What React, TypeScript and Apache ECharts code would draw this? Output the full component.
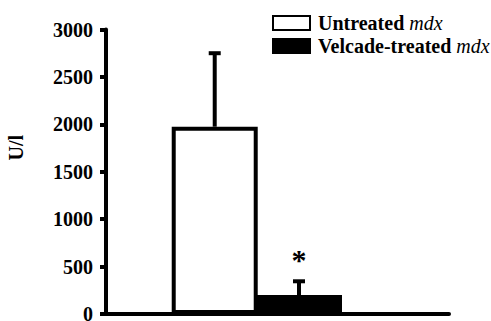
import React, { useEffect, useRef } from "react";
import * as echarts from "echarts";

const groups = [""];
const seriesNames = ["Untreated mdx", "Velcade-treated mdx"];
const means = [1975, 200];
const errorTops = [2750, 345];
const marks = ["", "*"];
const yMin = 0;
const yMax = 3000;
const yStep = 500;
const yName = "U/l";

const BAR_W = 86;
const GAP = -0.02;
const SPACER_W = 43;
const FONT = "'Liberation Serif', 'Times New Roman', serif";

function barCenterOffset(idx: number): number {
  const widths = [BAR_W, BAR_W, SPACER_W];
  let sum = 0;
  widths.forEach((w) => (sum += w * (1 + GAP)));
  sum -= widths[widths.length - 1] * GAP;
  let off = -sum / 2;
  for (let i = 0; i < idx; i++) off += widths[i] * (1 + GAP);
  return off + widths[idx] / 2;
}

export default function App() {
  const ref = useRef<HTMLDivElement>(null);
  useEffect(() => {
    if (!ref.current) return;
    const chart = echarts.init(ref.current, null, { renderer: "svg" });
    const barColors = ["#ffffff", "#000000"];
    const errData = means.map((m, i) => [0, m, errorTops[i], i]);
    chart.setOption({
      animation: false,
      backgroundColor: "#ffffff",
      grid: {
        left: 106,
        right: 42,
        top: 29.5,
        bottom: 7,
        containLabel: false,
        outerBoundsMode: "none",
      },
      legend: {
        orient: "vertical",
        left: 272,
        top: 13,
        padding: 0,
        itemWidth: 37,
        itemHeight: 14,
        itemGap: 3,
        icon: "rect",
        data: seriesNames.map((n, i) => ({
          name: n,
          itemStyle: { color: barColors[i], borderColor: "#000", borderWidth: 2 },
        })),
        formatter: (name: string) => `{b|${name.replace(/ mdx$/, "")}} {i|mdx}`,
        textStyle: {
          color: "#000",
          fontFamily: FONT,
          fontSize: 20,
          rich: {
            b: {
              fontFamily: FONT,
              fontSize: 20,
              fontWeight: "bold",
              color: "#000",
              padding: [0, 0, 0, 3],
            },
            i: {
              fontFamily: FONT,
              fontSize: 20,
              fontStyle: "italic",
              color: "#000",
            },
          },
        },
      },
      xAxis: {
        type: "category",
        data: groups,
        axisLine: { show: true, lineStyle: { color: "#000", width: 4 } },
        axisTick: { show: false },
        axisLabel: { show: false },
        splitLine: { show: false },
      },
      yAxis: {
        type: "value",
        min: yMin,
        max: yMax,
        interval: yStep,
        name: yName,
        nameLocation: "middle",
        nameGap: 80,
        nameTextStyle: {
          fontFamily: FONT,
          fontSize: 20,
          fontWeight: "bold",
          color: "#000",
          padding: [0, 0, 0, 48],
        },
        axisLine: { show: true, lineStyle: { color: "#000", width: 4 } },
        axisTick: { show: true, length: 6, lineStyle: { color: "#000", width: 4 } },
        axisLabel: {
          color: "#000",
          fontFamily: FONT,
          fontSize: 20,
          lineHeight: 14,
          fontWeight: "bold",
          margin: 13,
          formatter: (v: number) => String(v),
        },
        splitLine: { show: false },
      },
      series: [
        ...seriesNames.map((n, i) => ({
          name: n,
          type: "bar",
          data: [means[i]],
          barWidth: BAR_W,
          barGap: `${GAP * 100}%`,
          itemStyle: { color: barColors[i], borderColor: "#000", borderWidth: 4 },
          z: 2,
        })),
        {
          name: "spacer",
          type: "bar",
          data: ["-"],
          barWidth: SPACER_W,
          barGap: `${GAP * 100}%`,
          itemStyle: { color: "transparent" },
          silent: true,
        },
        {
          name: "errors",
          type: "custom",
          data: errData,
          z: 1,
          renderItem: (params: any, api: any) => {
            const idx = api.value(3);
            const base = api.coord([api.value(0), api.value(1)]);
            const top = api.coord([api.value(0), api.value(2)]);
            const x = base[0] + barCenterOffset(idx);
            const children: any[] = [
              {
                type: "line",
                shape: { x1: x, y1: base[1], x2: x, y2: top[1] },
                style: { stroke: "#000", lineWidth: 4 },
              },
              {
                type: "line",
                shape: { x1: x - 6, y1: top[1], x2: x + 6, y2: top[1] },
                style: { stroke: "#000", lineWidth: 4 },
              },
            ];
            if (marks[idx]) {
              children.push({
                type: "text",
                x: x,
                y: top[1] - 7,
                style: {
                  text: marks[idx],
                  fill: "#000",
                  font: `bold 30px ${FONT}`,
                  textAlign: "center",
                  textVerticalAlign: "bottom",
                },
              });
            }
            return { type: "group", children };
          },
        },
      ],
    });
    return () => chart.dispose();
  }, []);
  return (
    <div
      ref={ref}
      style={{ position: "fixed", left: 0, top: 0, width: 491, height: 321, background: "#fff" }}
    />
  );
}
